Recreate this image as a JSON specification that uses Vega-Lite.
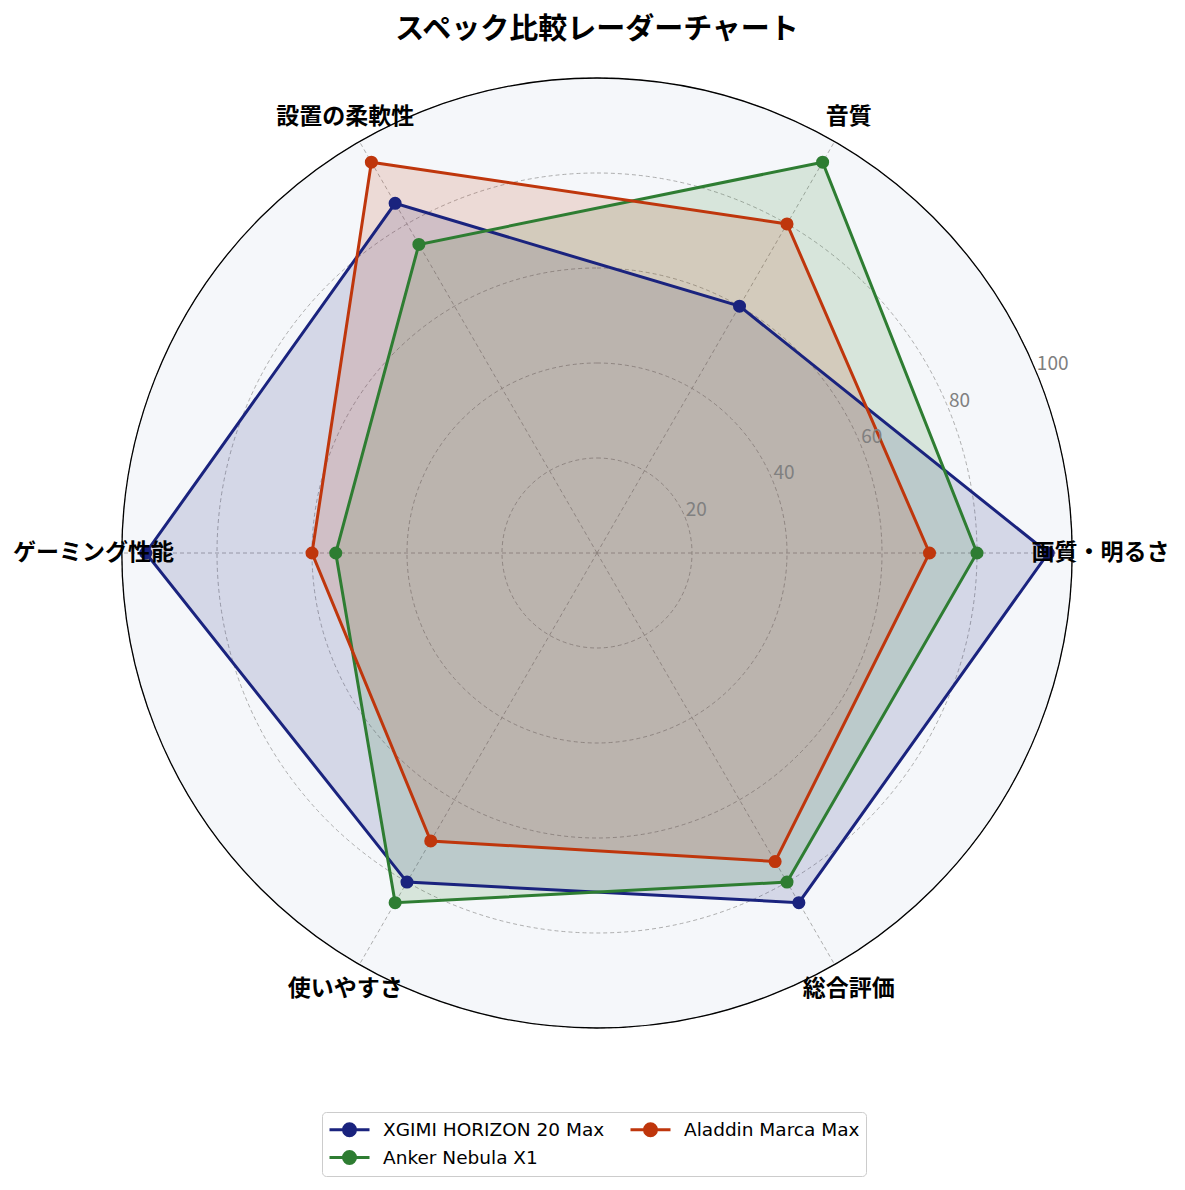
{
  "$schema": "https://vega.github.io/schema/vega-lite/v6.json",
  "width": 1176,
  "height": 986,
  "autosize": {"type": "none"},
  "padding": {"top": 60, "left": 9, "right": 0, "bottom": 144},
  "background": "white",
  "config": {"view": {"stroke": null}, "font": "Noto Sans CJK JP"},
  "title": {"text": "スペック比較レーダーチャート", "fontSize": 29, "fontWeight": "bold", "font": "Noto Sans CJK JP", "color": "black", "anchor": "middle", "frame": "group", "offset": 15},
  "datasets": {
    "scores": [
      {"product": "XGIMI HORIZON 20 Max", "axis": "画質・明るさ", "value": 95},
      {"product": "XGIMI HORIZON 20 Max", "axis": "音質", "value": 60},
      {"product": "XGIMI HORIZON 20 Max", "axis": "設置の柔軟性", "value": 85},
      {"product": "XGIMI HORIZON 20 Max", "axis": "ゲーミング性能", "value": 95},
      {"product": "XGIMI HORIZON 20 Max", "axis": "使いやすさ", "value": 80},
      {"product": "XGIMI HORIZON 20 Max", "axis": "総合評価", "value": 85},
      {"product": "Anker Nebula X1", "axis": "画質・明るさ", "value": 80},
      {"product": "Anker Nebula X1", "axis": "音質", "value": 95},
      {"product": "Anker Nebula X1", "axis": "設置の柔軟性", "value": 75},
      {"product": "Anker Nebula X1", "axis": "ゲーミング性能", "value": 55},
      {"product": "Anker Nebula X1", "axis": "使いやすさ", "value": 85},
      {"product": "Anker Nebula X1", "axis": "総合評価", "value": 80},
      {"product": "Aladdin Marca Max", "axis": "画質・明るさ", "value": 70},
      {"product": "Aladdin Marca Max", "axis": "音質", "value": 80},
      {"product": "Aladdin Marca Max", "axis": "設置の柔軟性", "value": 95},
      {"product": "Aladdin Marca Max", "axis": "ゲーミング性能", "value": 60},
      {"product": "Aladdin Marca Max", "axis": "使いやすさ", "value": 70},
      {"product": "Aladdin Marca Max", "axis": "総合評価", "value": 75}
    ],
    "axes": [
      {"axis": "画質・明るさ"},
      {"axis": "音質"},
      {"axis": "設置の柔軟性"},
      {"axis": "ゲーミング性能"},
      {"axis": "使いやすさ"},
      {"axis": "総合評価"}
    ],
    "rings": [{"r": 20}, {"r": 40}, {"r": 60}, {"r": 80}, {"r": 100}],
    "outer": [{"r": 100}]
  },
  "layer": [
    {
      "data": {"name": "outer"},
      "mark": {"type": "arc", "fill": "#f5f7fa", "strokeWidth": 0, "theta": 0, "theta2": 6.2832},
      "encoding": {
        "radius": {"field": "r", "type": "quantitative", "stack": null, "scale": {"type": "linear", "domain": [0, 100], "range": [0, 475], "zero": true}}
      }
    },
    {
      "data": {"name": "rings"},
      "mark": {"type": "arc", "filled": false, "stroke": "#9a9a9a", "strokeWidth": 0.8, "strokeDash": [4, 3], "theta": 0, "theta2": 6.2832},
      "encoding": {
        "radius": {"field": "r", "type": "quantitative", "stack": null, "scale": {"type": "linear", "domain": [0, 100], "range": [0, 475], "zero": true}}
      }
    },
    {
      "data": {"name": "axes"},
      "transform": [
        {"calculate": "indexof(['画質・明るさ','音質','設置の柔軟性','ゲーミング性能','使いやすさ','総合評価'], datum.axis) * PI / 3", "as": "ang"},
        {"calculate": "0", "as": "cx"},
        {"calculate": "100 * cos(datum.ang)", "as": "ex"},
        {"calculate": "100 * sin(datum.ang)", "as": "ey"}
      ],
      "mark": {"type": "rule", "stroke": "#9a9a9a", "strokeWidth": 0.8, "strokeDash": [4, 3]},
      "encoding": {
        "x": {"field": "cx", "type": "quantitative", "axis": null, "scale": {"domain": [-123.789, 123.789], "nice": false, "zero": false}},
        "y": {"field": "cx", "type": "quantitative", "axis": null, "scale": {"domain": [-103.789, 103.789], "nice": false, "zero": false}},
        "x2": {"field": "ex"},
        "y2": {"field": "ey"}
      }
    },
    {
      "data": {"name": "outer"},
      "mark": {"type": "arc", "filled": false, "stroke": "black", "strokeWidth": 1.3, "theta": 0, "theta2": 6.2832},
      "encoding": {
        "radius": {"field": "r", "type": "quantitative", "stack": null, "scale": {"type": "linear", "domain": [0, 100], "range": [0, 475], "zero": true}}
      }
    },
    {
      "data": {"name": "scores"},
      "transform": [
        {"calculate": "indexof(['画質・明るさ','音質','設置の柔軟性','ゲーミング性能','使いやすさ','総合評価'], datum.axis)", "as": "idx"},
        {"calculate": "datum.value * cos(datum.idx * PI / 3)", "as": "px"},
        {"calculate": "datum.value * sin(datum.idx * PI / 3)", "as": "py"}
      ],
      "layer": [
        {
          "mark": {"type": "line", "interpolate": "linear-closed", "fillOpacity": 0.15, "strokeOpacity": 0},
          "encoding": {
            "x": {"field": "px", "type": "quantitative", "axis": null, "scale": {"domain": [-123.789, 123.789], "nice": false, "zero": false}},
            "y": {"field": "py", "type": "quantitative", "axis": null, "scale": {"domain": [-103.789, 103.789], "nice": false, "zero": false}},
            "order": {"field": "idx", "type": "quantitative"},
            "detail": {"field": "product", "type": "nominal"},
            "fill": {"field": "product", "type": "nominal", "scale": {"domain": ["Anker Nebula X1", "Aladdin Marca Max", "XGIMI HORIZON 20 Max"], "range": ["#2e7d32", "#bf360c", "#1a237e"]}, "legend": null}
          }
        },
        {
          "mark": {"type": "line", "interpolate": "linear-closed", "strokeWidth": 3},
          "encoding": {
            "x": {"field": "px", "type": "quantitative", "axis": null},
            "y": {"field": "py", "type": "quantitative", "axis": null},
            "order": {"field": "idx", "type": "quantitative"},
            "color": {
              "field": "product", "type": "nominal",
              "scale": {"domain": ["XGIMI HORIZON 20 Max", "Aladdin Marca Max", "Anker Nebula X1"], "range": ["#1a237e", "#bf360c", "#2e7d32"]},
              "legend": {
                "title": null, "orient": "none", "legendX": 313, "legendY": 1052,
                "direction": "horizontal", "columns": 2,
                "symbolType": "M-1,0L3,0M1.6,0A0.6,0.6,0,1,1,0.4,0A0.6,0.6,0,1,1,1.6,0Z",
                "symbolSize": 400, "symbolStrokeWidth": 3,
                "labelFontSize": 18.5, "labelFont": "DejaVu Sans", "labelColor": "black", "labelLimit": 500,
                "labelOffset": 32, "padding": 6, "strokeColor": "#cccccc", "fillColor": "white",
                "cornerRadius": 4, "rowPadding": 3, "columnPadding": 19
              }
            }
          }
        },
        {
          "mark": {"type": "point", "filled": true, "size": 170, "opacity": 1},
          "encoding": {
            "x": {"field": "px", "type": "quantitative", "axis": null},
            "y": {"field": "py", "type": "quantitative", "axis": null},
            "color": {"field": "product", "type": "nominal"}
          }
        }
      ]
    },
    {
      "data": {"name": "rings"},
      "transform": [
        {"calculate": "datum.r * cos(PI / 8)", "as": "tx"},
        {"calculate": "datum.r * sin(PI / 8)", "as": "ty"}
      ],
      "mark": {"type": "text", "align": "left", "baseline": "bottom", "fontSize": 19, "color": "#808080", "font": "Noto Sans CJK JP", "dx": 1, "dy": 3},
      "encoding": {
        "x": {"field": "tx", "type": "quantitative", "axis": null},
        "y": {"field": "ty", "type": "quantitative", "axis": null},
        "text": {"field": "r", "type": "quantitative"}
      }
    },
    {
      "data": {"name": "axes"},
      "transform": [
        {"calculate": "indexof(['画質・明るさ','音質','設置の柔軟性','ゲーミング性能','使いやすさ','総合評価'], datum.axis) * PI / 3", "as": "ang"},
        {"calculate": "106 * cos(datum.ang)", "as": "lx"},
        {"calculate": "106 * sin(datum.ang)", "as": "ly"}
      ],
      "mark": {"type": "text", "align": "center", "baseline": "middle", "fontSize": 23, "fontWeight": "bold", "color": "black", "font": "Noto Sans CJK JP"},
      "encoding": {
        "x": {"field": "lx", "type": "quantitative", "axis": null},
        "y": {"field": "ly", "type": "quantitative", "axis": null},
        "text": {"field": "axis", "type": "nominal"}
      }
    }
  ]
}
